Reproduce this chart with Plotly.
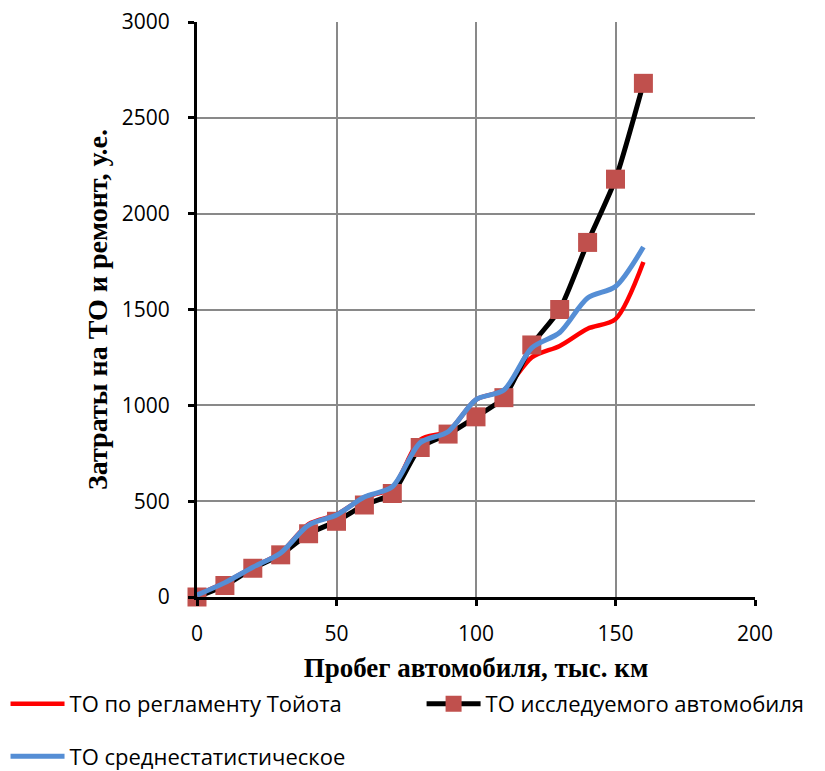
import plotly.graph_objects as go

mileage = [0, 10, 20, 30, 40, 50, 60, 70, 80, 90, 100, 110, 120, 130, 140, 150, 160]
toyota = [10, 75, 155, 230, 380, 430, 520, 570, 820, 865, 1030, 1080, 1250, 1310, 1400, 1450, 1748]
studied = [0, 60, 150, 220, 330, 395, 480, 540, 780, 850, 940, 1040, 1315, 1500, 1850, 2180, 2680]
average = [10, 75, 155, 230, 375, 428, 522, 575, 805, 862, 1030, 1080, 1300, 1380, 1560, 1620, 1826]

names = ["ТО по регламенту Тойота", "ТО исследуемого автомобиля", "ТО среднестатистическое"]
x_ticks = [0, 50, 100, 150, 200]
y_ticks = [0, 500, 1000, 1500, 2000, 2500, 3000]

fig = go.Figure()
fig.add_trace(go.Scatter(x=mileage, y=toyota, name=names[0], mode="lines",
                         line=dict(color="#FF0000", width=4.5, shape="spline", smoothing=0.8),
                         legend="legend"))
fig.add_trace(go.Scatter(x=mileage, y=studied, name=names[1], mode="lines+markers",
                         line=dict(color="#000000", width=5, shape="spline", smoothing=0.6),
                         marker=dict(symbol="square", size=19, color="#C0504D"),
                         cliponaxis=False, legend="legend2"))
fig.add_trace(go.Scatter(x=mileage, y=average, name=names[2], mode="lines",
                         line=dict(color="#558ED5", width=5, shape="spline", smoothing=0.8),
                         legend="legend3"))

tick_font = dict(family="Open Sans, Liberation Sans, sans-serif", size=21, color="#000000")
leg_font = dict(family="Open Sans, Liberation Sans, sans-serif", size=22, color="#000000")

fig.update_layout(
    width=825, height=771,
    margin=dict(l=197, r=70, t=22, b=174),
    plot_bgcolor="white", paper_bgcolor="white",
    xaxis=dict(range=[0, 200], tickvals=x_ticks, showgrid=True, gridcolor="#898989", gridwidth=1.5,
               showline=True, linecolor="#000000", linewidth=3, ticks="outside", ticklen=6,
               tickwidth=2.5, tickcolor="#000000", tickfont=tick_font, zeroline=False,
               ticklabelstandoff=10, automargin=False,
               title=dict(text="<b>Пробег автомобиля, тыс. км</b>",
                          font=dict(family="Liberation Serif, Times New Roman, serif", size=27, color="#000000"),
                          standoff=12)),
    yaxis=dict(range=[0, 3000], tickvals=y_ticks, showgrid=True, gridcolor="#898989", gridwidth=1.5,
               showline=True, linecolor="#000000", linewidth=3, ticks="outside", ticklen=6,
               tickwidth=2.5, tickcolor="#000000", tickfont=tick_font, zeroline=False,
               ticklabelstandoff=14, automargin=False,
               title=dict(text="<b>Затраты на ТО и ремонт, у.е.</b>",
                          font=dict(family="Liberation Serif, Times New Roman, serif", size=28, color="#000000"),
                          standoff=6)),
    legend=dict(orientation="h", xref="container", yref="container", x=0.0067, xanchor="left",
                y=0.0869, yanchor="middle", font=leg_font, bgcolor="rgba(0,0,0,0)", itemwidth=54),
    legend2=dict(orientation="h", xref="container", yref="container", x=0.511, xanchor="left",
                 y=0.0869, yanchor="middle", font=leg_font, bgcolor="rgba(0,0,0,0)", itemwidth=54),
    legend3=dict(orientation="h", xref="container", yref="container", x=0.0067, xanchor="left",
                 y=0.019, yanchor="middle", font=leg_font, bgcolor="rgba(0,0,0,0)", itemwidth=54),
    showlegend=True,
)

fig.write_html("out.html")
